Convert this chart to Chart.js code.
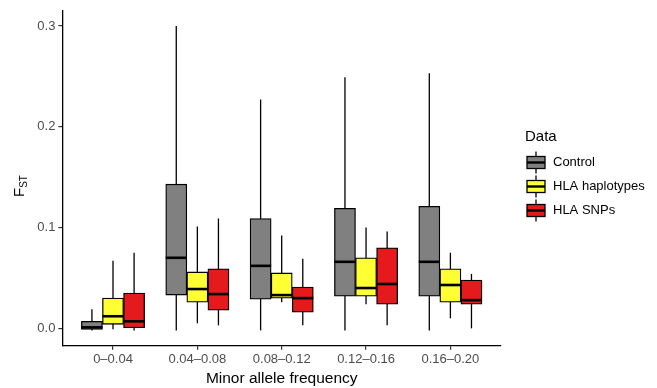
<!DOCTYPE html>
<html>
<head>
<meta charset="utf-8">
<script src="https://cdn.jsdelivr.net/npm/chart.js@4/dist/chart.umd.min.js"></script>
<style>
  html, body { margin: 0; background: #fff; }
  #wrap { width: 657px; height: 388px; }
</style>
</head>
<body>
<div id="wrap"><canvas id="fstChart"></canvas></div>
<script>
const categories = ['0\u20130.04', '0.04\u20130.08', '0.08\u20130.12', '0.12\u20130.16', '0.16\u20130.20'];
const seriesNames = ['Control', 'HLA haplotypes', 'HLA SNPs'];
const seriesColors = ['#808080', '#FFFF33', '#E41A1C'];
const yTicks = [0, 0.1, 0.2, 0.3];

// whisker ends, quartiles and medians per MAF bin
const controlMin = [-0.002, -0.002, -0.002, -0.002, -0.002];
const controlQ1 = [-0.001, 0.033, 0.029, 0.032, 0.032];
const controlMedian = [0.001, 0.070, 0.062, 0.066, 0.066];
const controlQ3 = [0.007, 0.143, 0.109, 0.119, 0.121];
const controlMax = [0.019, 0.300, 0.227, 0.249, 0.253];

const haploMin = [-0.001, 0.005, 0.026, 0.024, 0.010];
const haploQ1 = [0.004, 0.026, 0.030, 0.032, 0.026];
const haploMedian = [0.012, 0.039, 0.033, 0.040, 0.043];
const haploQ3 = [0.030, 0.056, 0.055, 0.070, 0.059];
const haploMax = [0.067, 0.101, 0.092, 0.100, 0.075];

const snpMin = [-0.002, 0.003, 0.003, 0.003, 0.000];
const snpQ1 = [0.000, 0.018, 0.016, 0.024, 0.024];
const snpMedian = [0.007, 0.034, 0.030, 0.044, 0.028];
const snpQ3 = [0.035, 0.059, 0.041, 0.080, 0.048];
const snpMax = [0.075, 0.109, 0.069, 0.096, 0.054];

const stats = [
  { min: controlMin, q1: controlQ1, median: controlMedian, q3: controlQ3, max: controlMax },
  { min: haploMin, q1: haploQ1, median: haploMedian, q3: haploQ3, max: haploMax },
  { min: snpMin, q1: snpQ1, median: snpMedian, q3: snpQ3, max: snpMax }
];

const FONT = '"Liberation Sans", Arial, Helvetica, sans-serif';
const dodge = 0.25;

Chart.defaults.font.family = FONT;

// boxes are floating bars from Q1 to Q3, dodged around each bin
const datasets = seriesNames.map((name, s) => ({
  label: name,
  data: categories.map((c, i) => ({ x: i + 1 + (s - 1) * dodge, y: [stats[s].q1[i], stats[s].q3[i]] })),
  stats: stats[s],
  backgroundColor: seriesColors[s],
  borderColor: '#000',
  borderWidth: 1.3,
  borderSkipped: false,
  grouped: false,
  barPercentage: 1,
  categoryPercentage: 1
}));

// whiskers behind the boxes, medians on top
const boxParts = {
  id: 'boxParts',
  beforeDatasetsDraw(chart) {
    const ctx = chart.ctx, y = chart.scales.y;
    ctx.save();
    ctx.strokeStyle = '#000';
    ctx.lineWidth = 1.3;
    chart.data.datasets.forEach((ds, d) => {
      chart.getDatasetMeta(d).data.forEach((bar, i) => {
        ctx.beginPath();
        ctx.moveTo(bar.x, y.getPixelForValue(ds.stats.min[i]));
        ctx.lineTo(bar.x, y.getPixelForValue(ds.stats.max[i]));
        ctx.stroke();
      });
    });
    ctx.restore();
  },
  afterDatasetsDraw(chart) {
    const ctx = chart.ctx, y = chart.scales.y;
    ctx.save();
    ctx.strokeStyle = '#000';
    ctx.lineWidth = 2.6;
    chart.data.datasets.forEach((ds, d) => {
      chart.getDatasetMeta(d).data.forEach((bar, i) => {
        const py = y.getPixelForValue(ds.stats.median[i]);
        ctx.beginPath();
        ctx.moveTo(bar.x - bar.width / 2, py);
        ctx.lineTo(bar.x + bar.width / 2, py);
        ctx.stroke();
      });
    });
    ctx.restore();
  }
};

// y title with subscript, and the "Data" legend on the right
const annotations = {
  id: 'annotations',
  afterDraw(chart) {
    const ctx = chart.ctx;
    ctx.save();
    ctx.fillStyle = '#000';
    ctx.translate(24, 186);
    ctx.rotate(-Math.PI / 2);
    ctx.textBaseline = 'alphabetic';
    ctx.font = '15px ' + FONT;
    const fw = ctx.measureText('F').width;
    ctx.font = '10px ' + FONT;
    const sw = ctx.measureText('ST').width;
    const x0 = -(fw + sw) / 2;
    ctx.font = '15px ' + FONT;
    ctx.fillText('F', x0, 0);
    ctx.font = '10px ' + FONT;
    ctx.fillText('ST', x0 + fw, 2.5);
    ctx.restore();

    ctx.save();
    ctx.fillStyle = '#000';
    ctx.textBaseline = 'middle';
    ctx.font = '15px ' + FONT;
    ctx.fillText('Data', 525, 137);
    chart.data.datasets.forEach((ds, s) => {
      const cy = 162.5 + s * 24;
      const kx = 527, kw = 18;
      ctx.strokeStyle = '#000';
      ctx.lineWidth = 1.3;
      ctx.beginPath();
      ctx.moveTo(kx + kw / 2, cy - 11);
      ctx.lineTo(kx + kw / 2, cy + 11);
      ctx.stroke();
      ctx.fillStyle = ds.backgroundColor;
      ctx.fillRect(kx, cy - 6, kw, 12);
      ctx.strokeRect(kx, cy - 6, kw, 12);
      ctx.lineWidth = 2.4;
      ctx.beginPath();
      ctx.moveTo(kx, cy);
      ctx.lineTo(kx + kw, cy);
      ctx.stroke();
      ctx.fillStyle = '#000';
      ctx.font = '13px ' + FONT;
      ctx.fillText(ds.label, 553, cy);
    });
    ctx.restore();
  }
};

new Chart(document.getElementById('fstChart'), {
  type: 'bar',
  data: { datasets },
  plugins: [boxParts, annotations],
  options: {
    responsive: true,
    maintainAspectRatio: false,
    animation: false,
    layout: { padding: { left: 0, right: 156, top: 10, bottom: 0 } },
    plugins: { legend: { display: false }, tooltip: { enabled: false } },
    scales: {
      x: {
        type: 'linear',
        offset: false,
        min: 0.4,
        max: 5.6,
        afterBuildTicks: (scale) => { scale.ticks = categories.map((c, i) => ({ value: i + 1 })); },
        afterFit: (scale) => { scale.height = 42.3; },
        ticks: {
          autoSkip: false,
          maxRotation: 0,
          padding: 2,
          color: '#4D4D4D',
          font: { size: 13 },
          callback: (v, i) => categories[i]
        },
        grid: { offset: false, drawOnChartArea: false, tickLength: 4, color: '#333', lineWidth: 1.2 },
        border: { display: true, color: '#000', width: 1.3 },
        title: { display: true, text: 'Minor allele frequency', color: '#000', font: { size: 15.5 }, padding: { top: 1, bottom: 0 } }
      },
      y: {
        min: -0.0172,
        max: 0.315,
        afterBuildTicks: (scale) => { scale.ticks = yTicks.map(v => ({ value: v })); },
        afterFit: (scale) => { scale.width = 62.4; },
        ticks: {
          padding: 3,
          color: '#4D4D4D',
          font: { size: 13 },
          callback: (v) => v.toFixed(1)
        },
        grid: { drawOnChartArea: false, tickLength: 4, color: '#333', lineWidth: 1.2 },
        border: { display: true, color: '#000', width: 1.3 }
      }
    }
  }
});
</script>
</body>
</html>
